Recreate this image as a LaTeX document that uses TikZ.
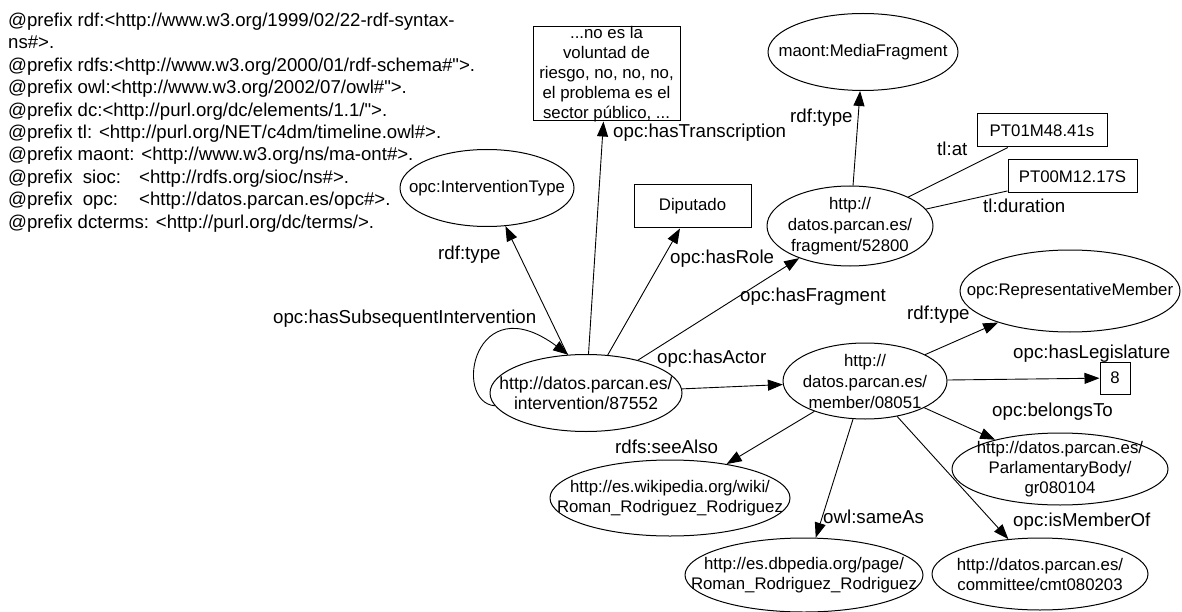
\documentclass[tikz,border=0pt]{standalone}
\usepackage{fontspec}
\setmainfont{Liberation Sans}
\newfontfamily\pfxfont{Liberation Sans}
\usetikzlibrary{shapes.geometric,arrows.meta}
\begin{document}
\begin{tikzpicture}[x=1pt,y=-1pt,
  ell/.style={draw,ellipse,line width=1pt,inner sep=0pt},
  etxt/.style={inner sep=0pt,align=center,font=\fontsize{16.8}{21}\selectfont},
  box/.style={draw,rectangle,line width=1pt,inner sep=0pt,align=center,font=\fontsize{16.8}{20}\selectfont},
  lbl/.style={anchor=base west,inner sep=0pt,font=\fontsize{18.7}{20}\selectfont},
  pre/.style={anchor=base west,inner sep=0pt,font=\pfxfont\fontsize{18.6}{20}\selectfont},
  arr/.style={line width=0.9pt,-{Triangle[length=15pt,width=11pt]}},
  lin/.style={line width=0.9pt}]
\useasboundingbox[fill=white] (0,0) rectangle (1182,612);

% prefixes
\node[pre] (p1) at (8,26.5) {@prefix rdf:<http://www.w3.org/1999/02/22-rdf-syntax-};
\node[pre] (p2) at (8,48.9) {ns\#>.};
\node[pre] (p3) at (8,71.3) {@prefix rdfs:<http://www.w3.org/2000/01/rdf-schema\#">.};
\node[pre] (p4) at (8,93.7) {@prefix owl:<http://www.w3.org/2002/07/owl\#">.};
\node[pre] (p5) at (8,116.1) {@prefix dc:<http://purl.org/dc/elements/1.1/">.};
\node[pre] (p6) at (8,138.5) {@prefix tl: <http://purl.org/NET/c4dm/timeline.owl\#>.};
\node[pre] (p7) at (8,160.9) {@prefix maont: <http://www.w3.org/ns/ma-ont\#>.};
\node[pre] (p8) at (8,183.3) {\makebox[131pt][l]{@prefix\ \ sioc:}<http://rdfs.org/sioc/ns\#>.};
\node[pre] (p9) at (8,205.7) {\makebox[131pt][l]{@prefix\ \ opc:}<http://datos.parcan.es/opc\#>.};
\node[pre] (p10) at (8,228.1) {@prefix dcterms: <http://purl.org/dc/terms/>.};

% ellipse nodes (shape) and their texts
\node[ell,minimum width=174pt,minimum height=77pt] (itype) at (487,188) {};
\node[etxt] (itypeT) at (itype.center) {opc:InterventionType};
\node[ell,minimum width=190pt,minimum height=77pt] (mf) at (863,52) {};
\node[etxt] (mfT) at (mf.center) {maont:MediaFragment};
\node[ell,minimum width=166pt,minimum height=80pt] (frag) at (850,226) {};
\node[etxt] (fragT) at (frag.center) {http://\\datos.parcan.es/\\fragment/52800};
\node[ell,minimum width=192pt,minimum height=77pt] (int) at (586,393) {};
\node[etxt,font=\fontsize{17.5}{20}\selectfont] (intT) at (int.center) {http://datos.parcan.es/\\intervention/87552};
\node[ell,minimum width=220pt,minimum height=82pt] (rep) at (1070,291) {};
\node[etxt] (repT) at (rep.center) {opc:RepresentativeMember};
\node[ell,minimum width=164pt,minimum height=76pt] (mem) at (865,381) {};
\node[etxt] (memT) at (mem.center) {http://\\datos.parcan.es/\\member/08051};
\node[ell,minimum width=216pt,minimum height=72pt] (pb) at (1060,469) {};
\node[etxt,font=\fontsize{16.8}{20}\selectfont] (pbT) at (pb.center) {http://datos.parcan.es/\\ParlamentaryBody/\\gr080104};
\node[ell,minimum width=216pt,minimum height=72pt] (com) at (1040,574) {};
\node[etxt,font=\fontsize{16.8}{20}\selectfont] (comT) at (com.center) {http://datos.parcan.es/\\committee/cmt080203};
\node[ell,minimum width=240pt,minimum height=76pt] (wiki) at (670,498) {};
\node[etxt,font=\fontsize{16.8}{20}\selectfont] (wikiT) at (wiki.center) {http://es.wikipedia.org/wiki/\\Roman\_Rodriguez\_Rodriguez};
\node[ell,minimum width=238pt,minimum height=74pt] (dbp) at (804,575) {};
\node[etxt,font=\fontsize{16.8}{20}\selectfont] (dbpT) at (dbp.center) {http://es.dbpedia.org/page/\\Roman\_Rodriguez\_Rodriguez};

% rectangle nodes
\node[box,minimum width=147pt,minimum height=94pt] (trans) at (606.5,74) {};
\node[etxt,font=\fontsize{16.8}{20}\selectfont] (transT) at (trans.center)
  {...no es la\\voluntad de\\riesgo, no, no, no,\\el problema es el\\sector público, ...};
\node[box,minimum width=117pt,minimum height=43pt] (dip) at (692.5,206.5) {Diputado};
\node[box,minimum width=130pt,minimum height=33pt] (tat) at (1042,130.5) {PT01M48.41s};
\node[box,minimum width=129pt,minimum height=33pt] (tdur) at (1072.5,176.5) {PT00M12.17S};
\node[box,minimum width=30pt,minimum height=32pt] (leg) at (1115,378) {8};

% edges
\draw[arr] (int) -- (itype);
\draw[arr] (int) -- (trans);
\draw[arr] (int) -- (dip);
\draw[arr] (int) -- (frag);
\draw[arr] (int) -- (mem);
\draw[arr] (int.188) .. controls (452,402) and (474,285) .. (int.115);
\draw[arr] (frag) -- (mf);
\draw[lin] (frag) -- (tat);
\draw[lin] (frag) -- (tdur);
\draw[arr] (mem) -- (rep);
\draw[arr] (mem) -- (leg);
\draw[arr] (mem) -- (pb);
\draw[arr] (mem) -- (com);
\draw[arr] (mem) -- (wiki);
\draw[arr] (mem) -- (dbp);

% labels
\node[lbl] (l1) at (613,138) {opc:hasTranscription};
\node[lbl] (l2) at (438,259) {rdf:type};
\node[lbl] (l3) at (670,263) {opc:hasRole};
\node[lbl] (l4) at (740,301) {opc:hasFragment};
\node[lbl] (l5) at (657,363) {opc:hasActor};
\node[lbl] (l6) at (273,323) {opc:hasSubsequentIntervention};
\node[lbl] (l7) at (790,123) {rdf:type};
\node[lbl] (l8) at (937,156) {tl:at};
\node[lbl] (l9) at (983,213) {tl:duration};
\node[lbl] (l10) at (907,319) {rdf:type};
\node[lbl] (l11) at (1013,358) {opc:hasLegislature};
\node[lbl] (l12) at (992,416) {opc:belongsTo};
\node[lbl] (l13) at (1013,526) {opc:isMemberOf};
\node[lbl] (l14) at (615,453) {rdfs:seeAlso};
\node[lbl] (l15) at (823,523) {owl:sameAs};
\end{tikzpicture}
\end{document}
